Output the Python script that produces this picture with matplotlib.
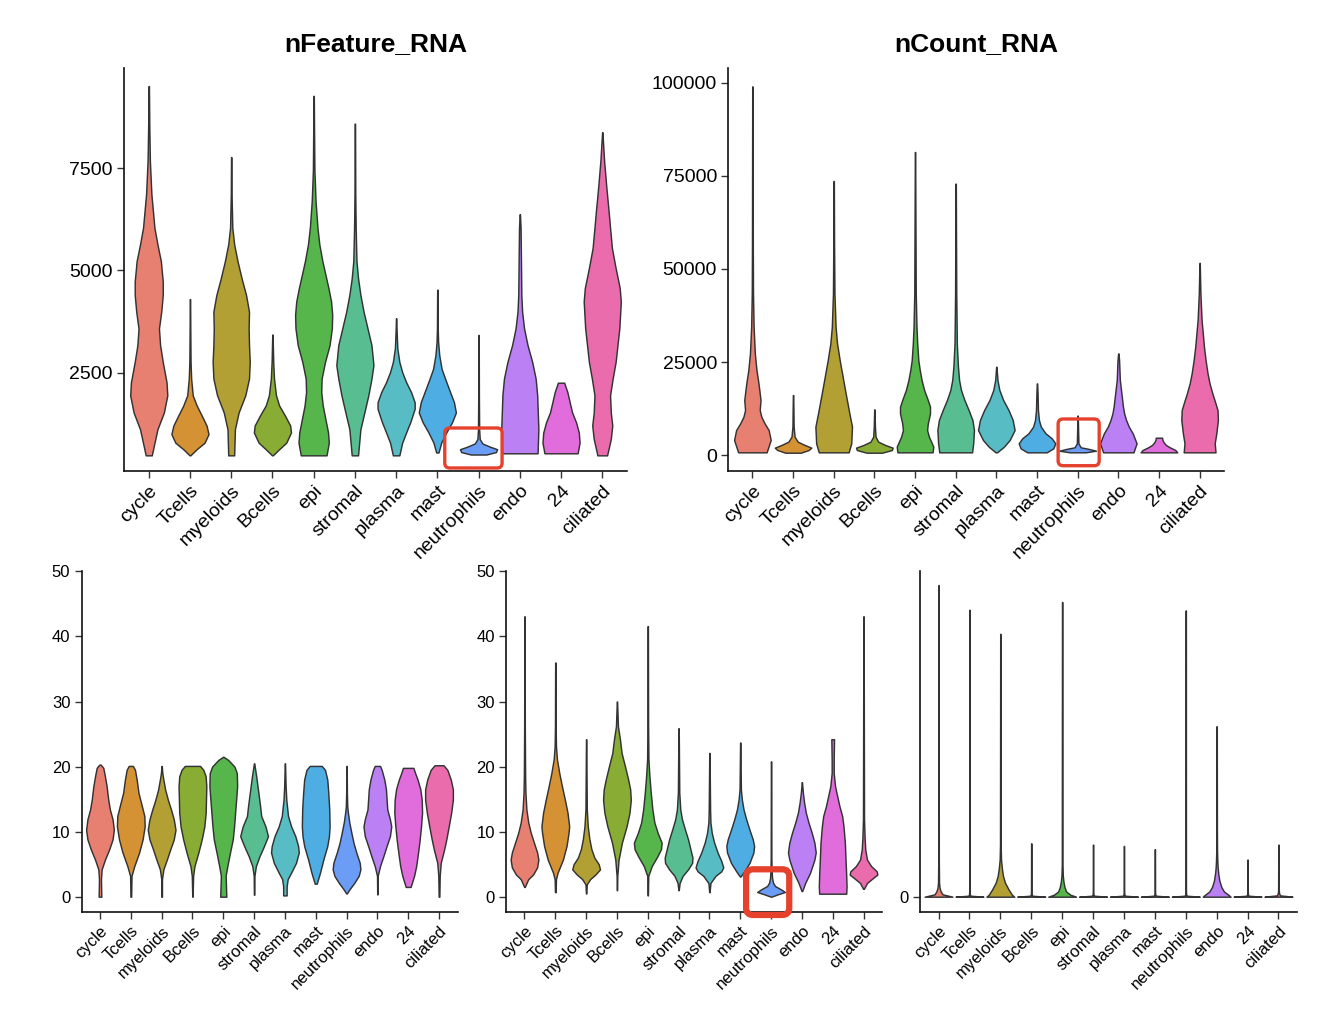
import numpy as np
import matplotlib
matplotlib.use("Agg")
import matplotlib.pyplot as plt
from matplotlib.patches import FancyBboxPatch
from matplotlib.transforms import IdentityTransform

plt.rcParams['font.family'] = ['Liberation Sans', 'DejaVu Sans']

categories = ["cycle", "Tcells", "myeloids", "Bcells", "epi", "stromal", "plasma",
              "mast", "neutrophils", "endo", "24", "ciliated"]
colors = ["#E88072", "#D59234", "#B2A034", "#89AC34", "#57B64B", "#58BE92",
          "#58BCC4", "#4EAEE4", "#6B9CF6", "#BA80F4", "#E16CDC", "#EB6CAC"]

# ---- panel 1: nFeature_RNA (levels = values, dens = relative violin width) ----
feat_levels = [
    [470, 1110, 1520, 1940, 2260, 2760, 3170, 3580, 3990, 4400, 4730, 5230, 5640, 6050, 6870, 7690, 8520, 9520],
    [470, 620, 780, 990, 1200, 1440, 1690, 1940, 2350, 2760, 3580, 4300],
    [470, 1110, 1520, 1940, 2350, 2760, 3170, 3580, 3990, 4400, 4810, 5230, 5640, 6050, 6870, 7780],
    [470, 620, 780, 1030, 1200, 1440, 1690, 1940, 2350, 2760, 3430],
    [470, 780, 1030, 1360, 1690, 2020, 2350, 2760, 3170, 3580, 3910, 4240, 4570, 4900, 5230, 5640, 6050, 6710, 7450, 8520, 9280],
    [470, 1110, 1520, 1940, 2350, 2680, 3170, 3580, 3990, 4400, 4810, 5230, 6050, 6870, 8600],
    [470, 780, 1110, 1280, 1610, 1770, 2020, 2260, 2510, 2760, 3090, 3580, 3830],
    [540, 780, 1030, 1280, 1520, 1770, 2020, 2350, 2590, 2920, 3250, 3580, 4530],
    [490, 550, 620, 680, 760, 870, 1110, 1940, 3420],
    [520, 1110, 1940, 2350, 2760, 3170, 3580, 3990, 4400, 5230, 6050, 6380],
    [520, 780, 1030, 1280, 1520, 1770, 2020, 2220, 2250],
    [470, 870, 1200, 1520, 1940, 2350, 2760, 3170, 3580, 4240, 4570, 5060, 5550, 6050, 6460, 7040, 7690, 8390],
]
feat_dens = [
    [8, 23, 40, 49, 47, 37, 30, 27, 33, 37, 37, 32, 23, 15, 7, 3, 1.5, 0.5],
    [1, 17, 37, 47, 42, 30, 17, 7, 3, 1.5, 0.8, 0.4],
    [8, 10, 20, 38, 48, 50, 48, 47, 48, 40, 28, 17, 8, 3, 1, 0.4],
    [1, 17, 35, 47, 45, 32, 17, 9, 4, 2, 0.4],
    [34, 40, 38, 31, 24, 20, 21, 30, 42, 48, 49, 46, 39, 31, 23, 15, 10, 5, 2, 1, 0.4],
    [8, 14, 24, 34, 42, 47, 42, 32, 22, 14, 8, 4, 2, 1, 0.4],
    [8, 15, 28, 35, 46, 46, 37, 25, 15, 8, 3, 1, 0.4],
    [3, 10, 23, 38, 48, 43, 33, 20, 11, 5, 2, 1, 0.4],
    [20, 45, 48, 30, 10, 3, 1.5, 0.8, 0.4],
    [46, 48, 45, 41, 32, 20, 11, 6, 4, 3, 2, 0.4],
    [42, 47, 45, 38, 28, 22, 16, 9, 8],
    [13, 23, 27, 23, 21, 28, 36, 41, 46, 50, 47, 36, 26, 21, 17, 11, 5, 0.4],
]

# ---- panel 2: nCount_RNA ----
count_levels = [
    [720, 4030, 6710, 8500, 10290, 12080, 14770, 19240, 22820, 27300, 34460, 43410, 56830, 99080],
    [620, 1340, 1970, 2690, 3580, 4920, 7610, 12080, 16110],
    [720, 3130, 7610, 11190, 16560, 21030, 25510, 29980, 34460, 43410, 56830, 73660],
    [620, 1340, 1970, 2690, 3580, 4920, 7610, 12260],
    [720, 2240, 4920, 6710, 8500, 11190, 12980, 14770, 17450, 20140, 22820, 25510, 29980, 34460, 43410, 81450],
    [720, 3130, 6710, 9400, 12080, 14770, 17450, 20140, 23720, 29980, 43410, 61310, 72940],
    [720, 2240, 4030, 6710, 9400, 12080, 14770, 17450, 20140, 23720],
    [720, 1790, 3130, 4480, 5820, 7610, 9400, 12080, 16560, 19240],
    [720, 1160, 1610, 2060, 3130, 7610, 10600],
    [720, 3130, 5820, 7610, 9400, 11190, 12980, 15660, 17450, 20140, 25510, 27300],
    [720, 1340, 2060, 2690, 3400, 4030, 4650],
    [720, 3130, 5820, 9400, 12080, 13870, 16560, 19240, 21930, 25510, 29090, 32670, 36250, 43410, 51640],
]
count_dens = [
    [35, 45, 40, 30, 22, 18, 20, 15, 10, 6, 3, 1.5, 1, 0.4],
    [20, 40, 47, 30, 12, 4, 1.5, 1, 0.4],
    [40, 47, 49, 42, 32, 24, 16, 9, 5, 2, 1, 0.4],
    [20, 45, 47, 28, 10, 3, 1.5, 0.4],
    [48, 50, 38, 33, 35, 41, 41, 35, 25, 18, 13, 9, 6, 4, 2, 0.4],
    [43, 46, 48, 44, 34, 23, 14, 9, 6, 3, 1.5, 0.8, 0.4],
    [2, 20, 35, 48, 43, 32, 18, 8, 3, 0.4],
    [25, 42, 47, 38, 22, 10, 5, 2.5, 1.5, 0.4],
    [20, 47, 30, 8, 2, 1, 0.4],
    [39, 47, 37, 27, 20, 15, 12, 9, 7, 4, 2, 0.4],
    [47, 42, 28, 18, 12, 9, 8],
    [40, 38, 42, 46, 45, 40, 32, 25, 20, 15, 11, 8, 5, 2, 0.4],
]

# ---- panel 3 (bottom left) ----
p3_levels = [
    [0, 2.7, 4.2, 5.7, 7.3, 8.8, 10.3, 11.9, 13.4, 14.9, 17.0, 18.5, 19.8, 20.3],
    [0, 3.2, 4.7, 6.8, 8.8, 10.8, 12.4, 13.9, 16.0, 18.0, 19.5, 20.1],
    [0, 2.7, 4.2, 5.7, 7.3, 8.8, 10.3, 11.9, 13.4, 14.9, 16.5, 18.0, 19.0, 20.1],
    [0, 3.2, 4.7, 6.8, 8.8, 10.8, 12.9, 14.9, 17.0, 18.5, 19.5, 20.1],
    [0, 3.2, 4.7, 6.8, 8.8, 10.8, 12.9, 14.9, 17.0, 19.0, 20.0, 21.0, 21.5],
    [0.3, 3.2, 4.7, 6.2, 7.8, 9.3, 10.8, 12.4, 13.9, 16.0, 18.5, 20.5],
    [0.2, 1.6, 2.7, 3.7, 5.2, 6.8, 7.8, 9.3, 10.8, 12.4, 14.9, 17.0, 20.5],
    [2.0, 3.7, 5.7, 7.8, 9.3, 10.8, 13.4, 16.0, 18.0, 19.5, 20.1],
    [0.5, 1.1, 2.1, 3.2, 4.2, 5.2, 6.8, 8.3, 9.8, 11.4, 12.9, 13.9, 16.0, 20.1],
    [0.36, 3.2, 4.7, 6.2, 7.8, 9.3, 10.8, 11.9, 13.4, 14.9, 16.5, 18.0, 19.5, 20.1],
    [1.5, 3.2, 4.7, 6.6, 8.7, 10.8, 12.9, 14.9, 16.5, 18.0, 19.0, 19.8],
    [0, 3.2, 5.2, 7.3, 8.8, 10.8, 12.9, 14.9, 16.5, 18.0, 19.5, 20.2],
]
p3_dens = [
    [4, 3, 5, 15, 28, 38, 42, 38, 30, 25, 20, 15, 10, 2],
    [1, 2, 10, 24, 34, 40, 39, 32, 22, 17, 12, 6],
    [1, 1, 5, 15, 25, 35, 40, 35, 27, 18, 10, 5, 2, 0.4],
    [0.5, 2, 6, 18, 28, 36, 40, 41, 42, 40, 33, 23],
    [9, 7, 12, 20, 28, 32, 35, 38, 41, 40, 33, 15, 1],
    [0.5, 1, 5, 15, 28, 39, 32, 20, 17, 12, 6, 0.4],
    [5, 5, 8, 18, 32, 40, 38, 30, 18, 9, 4, 2, 0.4],
    [3, 13, 23, 35, 40, 42, 41, 38, 35, 28, 18],
    [1, 8, 22, 35, 40, 38, 28, 20, 14, 8, 4, 2, 1, 0.4],
    [0.5, 1, 8, 18, 28, 38, 42, 38, 30, 28, 26, 21, 13, 8],
    [7, 17, 23, 28, 33, 37, 40, 39, 35, 27, 20, 15],
    [1, 2, 5, 15, 21, 28, 35, 40, 40, 34, 24, 13],
]

# ---- panel 4 (bottom middle) ----
p4_levels = [
    [1.5, 2.7, 3.4, 4.5, 5.7, 6.8, 8.3, 9.8, 11.4, 13.4, 16.0, 18.5, 26.2, 43.1],
    [0.7, 2.7, 3.7, 5.7, 7.8, 9.8, 10.8, 12.9, 14.9, 17.0, 19.0, 21.1, 23.1, 26.2, 36.0],
    [0.5, 1.9, 2.7, 3.4, 4.2, 5.0, 6.0, 7.3, 8.8, 10.8, 13.4, 24.2],
    [1.0, 3.2, 5.7, 8.3, 10.8, 12.9, 14.9, 16.5, 18.0, 20.1, 22.1, 24.2, 26.2, 30.0],
    [0.2, 3.2, 4.7, 6.2, 7.3, 8.3, 9.8, 11.4, 13.4, 16.0, 18.5, 21.1, 26.2, 41.6],
    [1.0, 2.1, 3.2, 4.2, 5.2, 6.0, 7.3, 8.8, 10.3, 11.9, 13.4, 16.0, 25.9],
    [0.7, 2.1, 3.2, 3.9, 4.5, 5.5, 6.8, 8.3, 9.8, 11.4, 13.4, 22.1],
    [3.1, 3.9, 5.2, 6.8, 7.8, 8.8, 10.3, 11.9, 13.4, 14.9, 16.5, 23.7],
    [0, 0.36, 0.72, 1.13, 1.64, 2.15, 2.9, 4.2, 5.7, 20.8],
    [0.87, 2.1, 3.7, 5.7, 6.8, 8.3, 9.8, 11.4, 12.9, 14.4, 16.0, 17.6],
    [0.46, 1.6, 3.2, 5.7, 8.3, 10.8, 12.4, 13.9, 16.0, 17.0, 19.0, 21.1, 24.2],
    [1.2, 2.1, 2.9, 3.4, 3.9, 4.7, 5.7, 7.3, 9.3, 11.9, 43.1],
]
p4_dens = [
    [1, 12, 27, 40, 44, 40, 30, 20, 12, 6, 3, 2, 1, 0.4],
    [1, 2, 7, 23, 34, 40, 42, 37, 29, 20, 12, 5, 2, 1, 0.4],
    [0.5, 2, 12, 28, 42, 38, 25, 16, 10, 5, 2, 0.4],
    [0.5, 1, 5, 15, 29, 38, 42, 40, 34, 24, 14, 9, 3, 0.4],
    [0.5, 1.5, 12, 29, 40, 42, 30, 20, 14, 9, 5, 2, 1, 0.4],
    [0.5, 3, 12, 28, 40, 41, 35, 28, 19, 10, 5, 2, 0.4],
    [0.5, 3, 18, 35, 41, 35, 24, 14, 7, 3, 2, 0.4],
    [1, 12, 28, 40, 42, 38, 28, 18, 10, 5, 2, 0.4],
    [1, 20, 42, 30, 12, 6, 3, 1.5, 1, 0.4],
    [1, 10, 25, 38, 42, 38, 30, 20, 12, 7, 3, 0.4],
    [40, 41, 40, 38, 36, 32, 28, 20, 11, 7, 3, 3, 4],
    [1, 10, 28, 40, 38, 22, 10, 5, 3, 1.5, 0.4],
]

# ---- panel 5 (bottom right) ----
p5_levels = [
    [0, 0.36, 0.87, 1.4, 2.15, 5.7, 47.9],
    [0, 0.15, 0.4, 1.0, 44.1],
    [0, 0.3, 1.1, 2.15, 3.2, 4.2, 5.7, 8.0, 40.4],
    [0, 0.15, 0.4, 1.0, 8.2],
    [0, 0.3, 0.8, 1.5, 2.3, 3.2, 5.0, 45.3],
    [0, 0.15, 0.4, 1.0, 8.0],
    [0, 0.15, 0.4, 1.0, 7.8],
    [0, 0.15, 0.4, 1.0, 7.3],
    [0, 0.15, 0.4, 1.0, 44.0],
    [0, 0.3, 0.8, 1.5, 2.5, 3.5, 4.5, 5.5, 7.0, 10.0, 26.2],
    [0, 0.15, 0.4, 1.0, 5.7],
    [0, 0.2, 0.5, 1.0, 8.0],
]
p5_dens = [
    [42, 12, 6, 3, 1.5, 0.8, 0.4],
    [42, 3, 1, 0.6, 0.4],
    [42, 35, 25, 14, 8, 5, 2, 1, 0.4],
    [42, 3, 1, 0.6, 0.4],
    [42, 25, 12, 7, 4, 2, 1, 0.4],
    [42, 3, 1, 0.6, 0.4],
    [42, 3, 1, 0.6, 0.4],
    [42, 3, 1, 0.6, 0.4],
    [42, 3, 1, 0.6, 0.4],
    [42, 35, 22, 14, 8, 5, 3, 2, 1.2, 0.8, 0.4],
    [42, 3, 1, 0.6, 0.4],
    [42, 5, 2, 1, 0.4],
]

feat_ticks = [2500, 5000, 7500]
count_ticks = [0, 25000, 50000, 75000, 100000]
pct_ticks = [0, 10, 20, 30, 40, 50]
p5_ticks = [0]

W, H = 1342, 1026
fig = plt.figure(figsize=(W / 100, H / 100), dpi=100)
fig.patch.set_facecolor("white")


def px_axes(l, t, r, b):
    return fig.add_axes([l / W, 1 - b / H, (r - l) / W, (b - t) / H])


def draw_panel(ax, levels, dens, ylim, yticks, fs, title=None):
    stats = []
    for y, w in zip(levels, dens):
        y = np.asarray(y, float)
        stats.append(dict(coords=y, vals=np.asarray(w, float), mean=np.nan,
                          median=np.nan, min=y.min(), max=y.max()))
    pos = np.arange(1, len(categories) + 1)
    parts = ax.violin(stats, positions=pos, widths=0.9, showmeans=False,
                      showextrema=False, showmedians=False)
    for body, c in zip(parts["bodies"], colors):
        body.set_facecolor(c)
        body.set_edgecolor("#333333")
        body.set_linewidth(1.05)
        body.set_alpha(1)
    ax.set_xlim(0.4, len(categories) + 0.6)
    ax.set_ylim(*ylim)
    ax.set_xticks(pos)
    ax.set_xticklabels(categories, rotation=45, ha="right", va="top",
                       rotation_mode="anchor", fontsize=fs)
    ax.set_yticks(yticks)
    ax.set_yticklabels([str(t) for t in yticks], fontsize=fs)
    for s in ["top", "right"]:
        ax.spines[s].set_visible(False)
    for s in ["left", "bottom"]:
        ax.spines[s].set_linewidth(1.2)
        ax.spines[s].set_color("#111111")
    ax.tick_params(length=5, width=1.0, color="#333333", pad=3, labelcolor="black")
    ax.set_facecolor("white")
    if title:
        ax.set_title(title, fontsize=19, fontweight="bold", pad=12)


ax1 = px_axes(124, 68, 627, 471)
ax2 = px_axes(728, 68, 1224, 471)
ax3 = px_axes(81.5, 570.5, 457.5, 912.3)
ax4 = px_axes(506, 570.5, 882, 912.3)
ax5 = px_axes(920, 570.5, 1297, 912.3)

draw_panel(ax1, feat_levels, feat_dens, (86, 9963), feat_ticks, 14, "nFeature_RNA")
draw_panel(ax2, count_levels, count_dens, (-4300, 104030), count_ticks, 14, "nCount_RNA")
draw_panel(ax3, p3_levels, p3_dens, (-2.4, 50.14), pct_ticks, 12)
draw_panel(ax4, p4_levels, p4_dens, (-2.4, 50.14), pct_ticks, 12)
draw_panel(ax5, p5_levels, p5_dens, (-2.4, 50.14), p5_ticks, 12)

# red highlight boxes around neutrophils (data coordinates)
highlights = [
    (ax1, (8.18, 9.57), (160, 1140), 2.4, 5),
    (ax2, (8.52, 9.53), (-2876, 9680), 2.4, 5),
    (ax4, (8.19, 9.59), (-2.81, 4.21), 4.5, 7),
]
for ax, (x0, x1), (y0, y1), lw, r in highlights:
    p0 = ax.transData.transform((x0, y0))
    p1 = ax.transData.transform((x1, y1))
    box = FancyBboxPatch((p0[0], p0[1]), p1[0] - p0[0], p1[1] - p0[1],
                         boxstyle=f"round,pad=0,rounding_size={r}",
                         transform=IdentityTransform(), fill=False,
                         edgecolor="#E5412D", linewidth=lw, zorder=10)
    fig.add_artist(box)

fig.savefig("out.png", dpi=100, facecolor="white")
